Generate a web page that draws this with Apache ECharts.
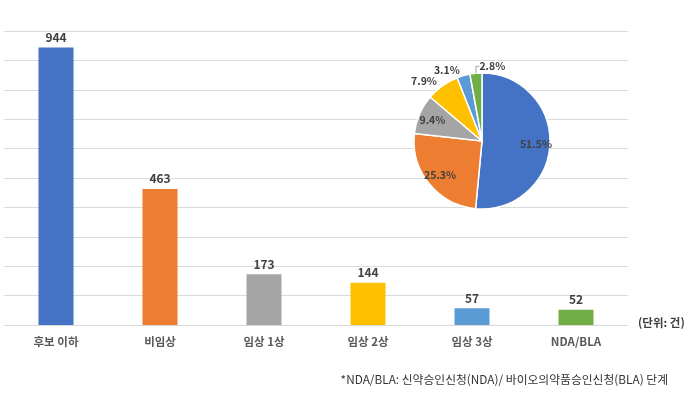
<!DOCTYPE html>
<html><head><meta charset="utf-8">
<script src="https://cdn.jsdelivr.net/npm/echarts@6/dist/echarts.min.js"></script>
<style>html,body{margin:0;padding:0;background:#fff}#c{width:690px;height:395px}</style>
</head><body><div id="c"></div>
<script>
const categories = ['후보 이하', '비임상', '임상 1상', '임상 2상', '임상 3상', 'NDA/BLA'];
const counts = [944, 463, 173, 144, 57, 52];
const colors = ['#4472C4', '#ED7D31', '#A5A5A5', '#FFC000', '#5B9BD5', '#70AD47'];
const unitLabel = '(단위: 건)';
const footnote = '*NDA/BLA: 신약승인신청(NDA)/ 바이오의약품승인신청(BLA) 단계';
const font = '"Noto Sans CJK KR", "Noto Sans", sans-serif';

const chart = echarts.init(document.getElementById('c'));
const insideIdx = [0, 1, 2];
chart.setOption({
  animation: false,
  textStyle: { fontFamily: font },
  grid: { left: 4, right: 62, top: 31, bottom: 70 },
  xAxis: {
    type: 'category', data: categories,
    axisLine: { lineStyle: { color: '#d9d9d9' } },
    axisTick: { show: false },
    axisLabel: { color: '#595959', fontSize: 11.5, fontWeight: 'bold', margin: 11, fontFamily: font }
  },
  yAxis: {
    type: 'value', min: 0, max: 1000, interval: 100,
    axisLabel: { show: false }, axisLine: { show: false }, axisTick: { show: false },
    splitLine: { lineStyle: { color: '#d9d9d9' } }
  },
  series: [
    {
      type: 'bar', barWidth: 35,
      data: counts.map((v, i) => ({ value: v, itemStyle: { color: colors[i] } })),
      label: { show: true, position: 'top', distance: 4, color: '#404040', fontSize: 12, fontWeight: 'bold', fontFamily: font }
    },
    {
      type: 'pie', center: [482, 141], radius: 68, startAngle: 90, percentPrecision: 1,
      z: 5,
      itemStyle: { borderColor: '#fff', borderWidth: 1.5 },
      label: { show: false }, labelLine: { show: false },
      data: counts.map((v, i) => ({ value: v, name: categories[i], itemStyle: { color: colors[i] } }))
    },
    {
      type: 'pie', center: [482, 141], radius: [34, 68], startAngle: 90, percentPrecision: 1,
      z: 6, silent: true, avoidLabelOverlap: false,
      itemStyle: { color: 'rgba(0,0,0,0)' },
      label: { show: true, formatter: '{d}%', color: '#404040', fontSize: 10.5, fontWeight: 'bold', fontFamily: font, distanceToLabelLine: 2 },
      labelLine: { show: false, length: 6, length2: 0 },
      labelLayout: function (p) {
        if (p.dataIndex === 5) {
          return { x: p.labelRect.x + p.labelRect.width + 10, y: p.labelRect.y + p.labelRect.height / 2 - 1, align: 'left', verticalAlign: 'middle' };
        }
        return {};
      },
      data: counts.map((v, i) => ({
        value: v, name: categories[i],
        label: { position: insideIdx.includes(i) ? 'inside' : 'outside' },
        labelLine: i === 5 ? { show: true, length: 6, length2: 4, lineStyle: { color: '#a6a6a6', width: 1 } } : { show: false }
      }))
    }
  ],
  graphic: [
    { type: 'text', left: 638, top: 317, style: { text: unitLabel, fill: '#404040', font: 'bold 11.5px ' + font } },
    { type: 'text', right: 22, top: 374, style: { text: footnote, fill: '#333', font: '11.8px ' + font } }
  ]
});
</script></body></html>
